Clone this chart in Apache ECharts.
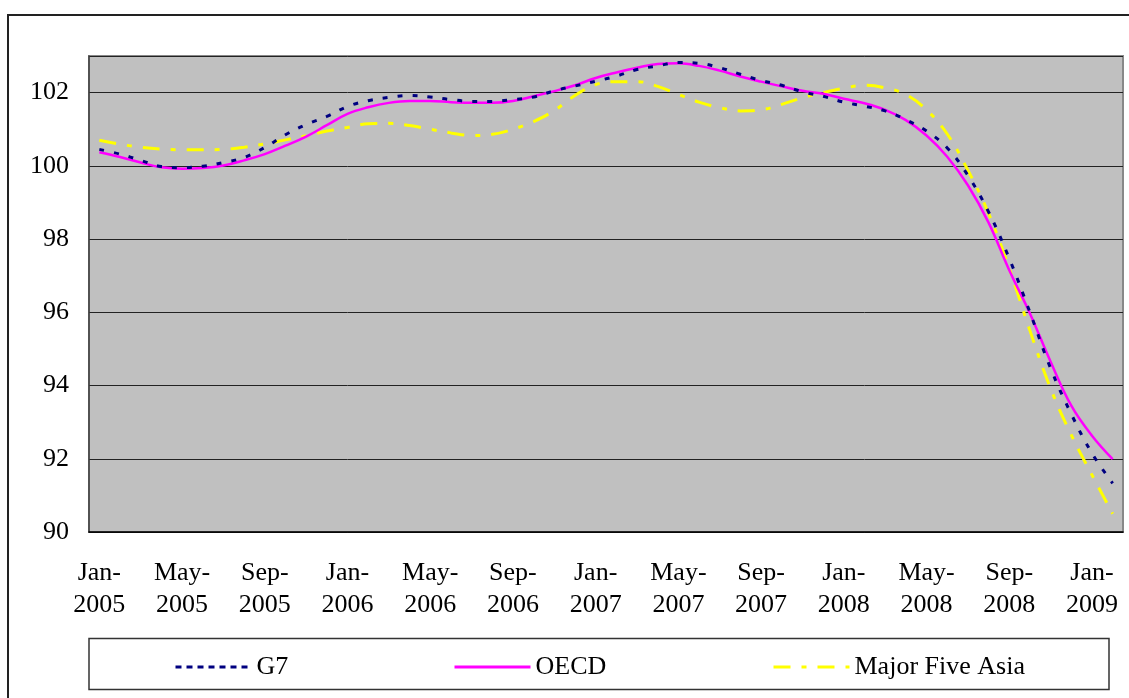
<!DOCTYPE html>
<html>
<head>
<meta charset="utf-8">
<script src="https://cdn.jsdelivr.net/npm/echarts@6/dist/echarts.min.js"></script>
<style>
  html, body { margin: 0; padding: 0; background: #fff; }
  #chart { width: 1129px; height: 698px; }
</style>
</head>
<body>
<div id="chart"></div>
<script>
// months, Jan 2005 - Feb 2009
var months = [
  'Jan-2005', 'Feb-2005', 'Mar-2005', 'Apr-2005', 'May-2005', 'Jun-2005', 'Jul-2005', 'Aug-2005', 'Sep-2005', 'Oct-2005', 'Nov-2005', 'Dec-2005',
  'Jan-2006', 'Feb-2006', 'Mar-2006', 'Apr-2006', 'May-2006', 'Jun-2006', 'Jul-2006', 'Aug-2006', 'Sep-2006', 'Oct-2006', 'Nov-2006', 'Dec-2006',
  'Jan-2007', 'Feb-2007', 'Mar-2007', 'Apr-2007', 'May-2007', 'Jun-2007', 'Jul-2007', 'Aug-2007', 'Sep-2007', 'Oct-2007', 'Nov-2007', 'Dec-2007',
  'Jan-2008', 'Feb-2008', 'Mar-2008', 'Apr-2008', 'May-2008', 'Jun-2008', 'Jul-2008', 'Aug-2008', 'Sep-2008', 'Oct-2008', 'Nov-2008', 'Dec-2008',
  'Jan-2009', 'Feb-2009'
];

var g7 = [
  100.45, 100.32, 100.15, 99.98, 99.95, 99.99, 100.09, 100.23, 100.5, 100.85, 101.13, 101.35,
  101.62, 101.78, 101.87, 101.92, 101.88, 101.81, 101.76, 101.76, 101.81, 101.88, 102.05, 102.18,
  102.31, 102.45, 102.63, 102.73, 102.82, 102.8, 102.68, 102.5, 102.33, 102.2, 102.02, 101.9,
  101.74, 101.63, 101.5, 101.26, 100.95, 100.49, 99.74, 98.74, 97.47, 96.0, 94.47, 93.22,
  92.15, 91.33
];

var oecd = [
  100.37, 100.24, 100.09, 99.96, 99.92, 99.94, 100.01, 100.15, 100.32, 100.55, 100.8, 101.11,
  101.42, 101.6, 101.72, 101.77, 101.77, 101.74, 101.72, 101.72, 101.77, 101.9, 102.04, 102.2,
  102.4, 102.55, 102.68, 102.78, 102.8, 102.73, 102.6, 102.44, 102.3, 102.17, 102.05, 101.97,
  101.83, 101.71, 101.53, 101.25, 100.83, 100.25, 99.47, 98.45, 97.15, 95.97, 94.65, 93.45,
  92.63, 91.99
];

var asia = [
  100.7, 100.59, 100.51, 100.46, 100.44, 100.44, 100.45, 100.51, 100.6, 100.71, 100.82, 100.95,
  101.05, 101.15, 101.16, 101.1, 101.0, 100.9, 100.83, 100.86, 101.0, 101.21, 101.51, 101.92,
  102.22, 102.3, 102.3, 102.17, 101.95, 101.74, 101.59, 101.5, 101.53, 101.68, 101.86, 102.0,
  102.12, 102.2, 102.13, 101.95, 101.53, 100.87, 99.88, 98.7, 97.2, 95.5, 93.92, 92.65,
  91.56, 90.5
];

var font = 'Liberation Serif, Times New Roman, serif';

var chart = echarts.init(document.getElementById('chart'));

//legend item, one legend per series so each sits where it does in the picture
function legendAt(name, left, dash) {
  var lg = {
    data: [name],
    left: left,
    top: 649,
    itemWidth: 76,
    itemHeight: 14,
    itemStyle: { opacity: 0 },
    lineStyle: { width: 3 },
    textStyle: { fontFamily: font, fontSize: 26, color: '#000' }
  };
  if (dash) {
    lg.lineStyle.type = dash;
  }
  return lg;
}

var option = {
  animation: false,
  backgroundColor: '#fff',
  graphic: [
    {
      type: 'rect',
      shape: { x: 8, y: 15, width: 1200, height: 800 },
      style: { fill: 'none', stroke: '#222', lineWidth: 2 }
    },
    {
      type: 'rect',
      shape: { x: 89, y: 638.5, width: 1020, height: 51 },
      style: { fill: '#fff', stroke: '#333', lineWidth: 1.5 }
    }
  ],
  legend: [
    legendAt('G7', 169, [6, 5]),
    legendAt('OECD', 448),
    legendAt('Major Five Asia', 767)
  ],
  grid: {
    left: 89,
    top: 56,
    right: 6,
    bottom: 166,
    show: true,
    backgroundColor: '#c0c0c0',
    borderColor: '#888',
    borderWidth: 2
  },
  xAxis: {
    type: 'category',
    boundaryGap: true,
    data: months,
    axisLine: { lineStyle: { color: '#000', width: 1.5 } },
    axisTick: {
      inside: true,
      length: 6,
      interval: 0,
      lineStyle: { color: '#000', width: 1 }
    },
    axisLabel: {
      interval: 3,
      margin: 25,
      fontFamily: font,
      fontSize: 26,
      lineHeight: 32,
      color: '#000',
      formatter: function(v) {
        var p = v.split('-');
        return p[0] + '-\n' + p[1];
      }
    },
    splitLine: { show: false }
  },
  yAxis: {
    type: 'value',
    min: 90,
    max: 103,
    interval: 2,
    axisLine: { show: true, lineStyle: { color: '#404040', width: 1.5 } },
    axisTick: { show: false },
    axisLabel: {
      margin: 20,
      fontFamily: font,
      fontSize: 26,
      color: '#000',
      showMaxLabel: false
    },
    splitLine: { lineStyle: { color: '#222', width: 1 } }
  },
  series: [
    {
      name: 'G7',
      type: 'line',
      data: g7,
      symbol: 'none',
      smooth: 0.4,
      z: 3,
      itemStyle: { color: '#000080' },
      lineStyle: { color: '#000080', width: 3, type: [5, 10] }
    },
    {
      name: 'OECD',
      type: 'line',
      data: oecd,
      symbol: 'none',
      smooth: 0.4,
      z: 2,
      itemStyle: { color: '#ff00ff' },
      lineStyle: { color: '#ff00ff', width: 2.5 }
    },
    {
      name: 'Major Five Asia',
      type: 'line',
      data: asia,
      symbol: 'none',
      smooth: 0.4,
      z: 1,
      itemStyle: { color: '#ffff00' },
      lineStyle: { color: '#ffff00', width: 3, type: [17, 11, 5, 11] }
    }
  ]
};

chart.setOption(option);
</script>
</body>
</html>
